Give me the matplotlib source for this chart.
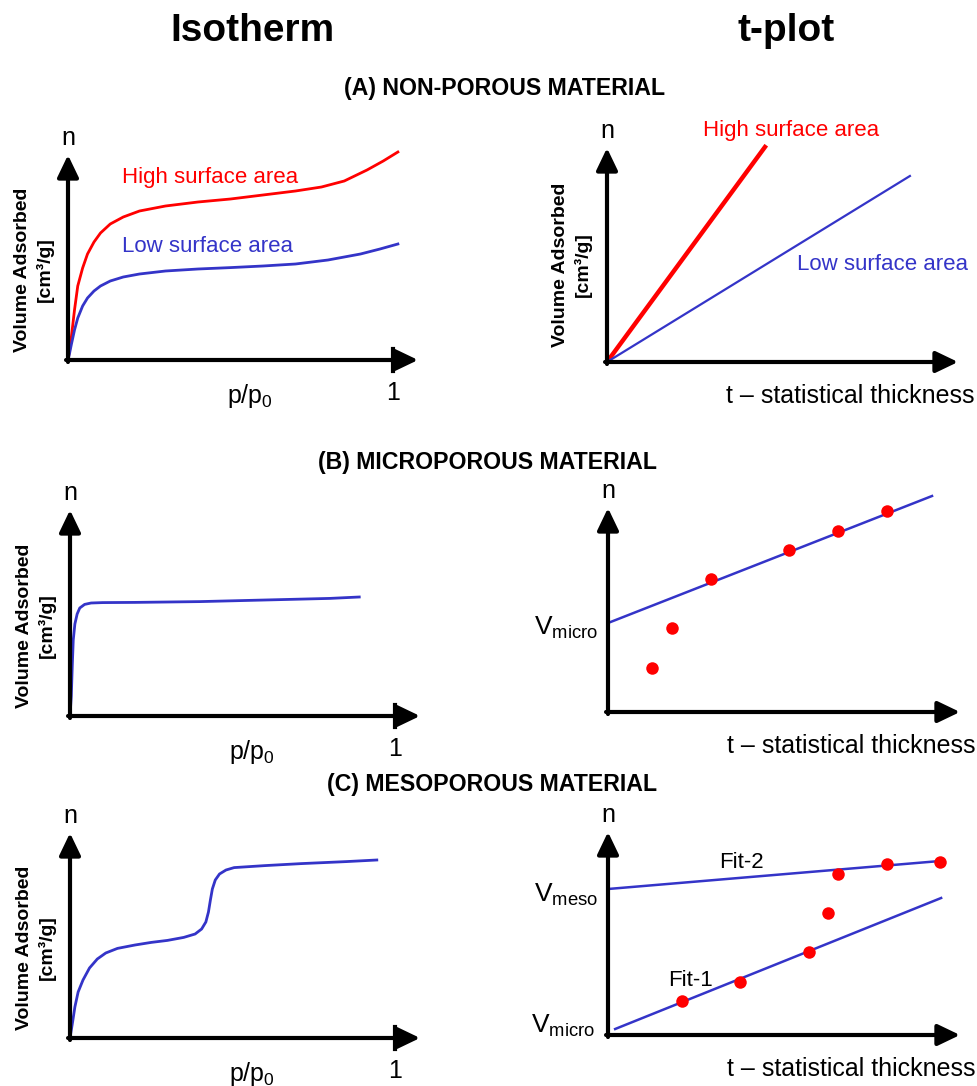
import matplotlib
matplotlib.use("Agg")
import matplotlib.pyplot as plt

plt.rcParams['font.family'] = ['Liberation Sans', 'DejaVu Sans']
plt.rcParams['mathtext.fontset'] = 'custom'
plt.rcParams['mathtext.rm'] = 'Liberation Sans'
plt.rcParams['mathtext.it'] = 'Liberation Sans:italic'
plt.rcParams['mathtext.bf'] = 'Liberation Sans:bold'

RED = '#ff0000'
BLUE = '#3434c8'

# (A) non-porous isotherms, p/p0 vs n (schematic units)
a_high_x = [0, 0.005, 0.01, 0.02, 0.03, 0.045, 0.06, 0.08, 0.1, 0.13, 0.17, 0.22, 0.3,
            0.4, 0.5, 0.6, 0.7, 0.78, 0.85, 0.92, 0.97, 1.015]
a_high_y = [0, 0.05, 0.11, 0.25, 0.37, 0.46, 0.53, 0.59, 0.635, 0.68, 0.715, 0.745, 0.77,
            0.79, 0.805, 0.825, 0.845, 0.865, 0.895, 0.95, 0.995, 1.04]
a_low_x = [0, 0.005, 0.01, 0.02, 0.03, 0.045, 0.06, 0.08, 0.1, 0.13, 0.17, 0.22, 0.3,
           0.4, 0.5, 0.6, 0.7, 0.8, 0.9, 0.96, 1.015]
a_low_y = [0, 0.035, 0.075, 0.15, 0.21, 0.27, 0.31, 0.345, 0.37, 0.395, 0.415, 0.43, 0.445,
           0.455, 0.462, 0.47, 0.48, 0.5, 0.53, 0.555, 0.58]

# (A) t-plot lines
a_t_high_x = [0, 0.486]
a_t_high_y = [0, 1.075]
a_t_low_x = [0, 0.932]
a_t_low_y = [0, 0.93]

# (B) microporous
b_iso_x = [0, 0.004, 0.007, 0.01, 0.015, 0.022, 0.03, 0.045, 0.065, 0.1, 0.2,
           0.4, 0.6, 0.8, 0.89]
b_iso_y = [0, 0.1, 0.25, 0.38, 0.46, 0.51, 0.54, 0.558, 0.565, 0.567, 0.568,
           0.572, 0.58, 0.588, 0.595]
b_fit_x = [0, 0.997]
b_fit_y = [0.445, 1.08]
b_pts_x = [0.135, 0.197, 0.317, 0.557, 0.708, 0.858]
b_pts_y = [0.22, 0.42, 0.665, 0.81, 0.905, 1.005]

# (C) mesoporous
c_iso_x = [0, 0.008, 0.015, 0.025, 0.04, 0.06, 0.084, 0.11, 0.146, 0.2, 0.25, 0.3,
           0.35, 0.385, 0.405, 0.418, 0.426, 0.432, 0.438, 0.447, 0.46, 0.48, 0.505,
           0.6, 0.712, 0.85, 0.944]
c_iso_y = [0, 0.08, 0.155, 0.23, 0.29, 0.35, 0.395, 0.425, 0.448, 0.465, 0.478, 0.488,
           0.503, 0.52, 0.545, 0.58, 0.63, 0.69, 0.745, 0.79, 0.82, 0.84, 0.852,
           0.862, 0.872, 0.882, 0.89]
c_fit1_x = [0.022, 1.025]
c_fit1_y = [0.03, 0.685]
c_fit2_x = [0, 1.022]
c_fit2_y = [0.73, 0.87]
c_pts_x = [0.228, 0.406, 0.618, 0.677, 0.708, 0.858, 1.022]
c_pts_y = [0.17, 0.265, 0.415, 0.61, 0.805, 0.855, 0.865]

W, H = 978, 1086
SX, SY = 325.0, 200.0
X0, X1, Y0, Y1 = -0.25, 1.2, -0.25, 1.2

fig = plt.figure(figsize=(W / 100, H / 100), dpi=100)


def panel(ox, oy, xtip, ytip, iso=True, ylab=True):
    left = ox + X0 * SX
    bottom = oy - Y0 * SY
    ax = fig.add_axes([left / W, 1 - bottom / H, (X1 - X0) * SX / W, (Y1 - Y0) * SY / H])
    ax.set_xlim(X0, X1)
    ax.set_ylim(Y0, Y1)
    ax.axis('off')
    ax.patch.set_alpha(0)
    arrow = dict(arrowstyle='-|>,head_length=0.75,head_width=0.36', lw=3,
                 color='black', mutation_scale=18, shrinkA=0, shrinkB=0)
    ax.annotate('', xy=(xtip, 0), xytext=(-0.006, 0), arrowprops=arrow)
    ax.annotate('', xy=(0, ytip), xytext=(0, -0.01), arrowprops=arrow)
    ax.text(0, ytip + 0.085, 'n', fontsize=18, ha='center', va='center')
    if iso:
        ax.plot([1, 1], [-0.055, 0.055], color='black', lw=3)
        ax.text(1, -0.165, '1', fontsize=18, ha='center', va='center')
        ax.text(0.56, -0.18, 'p/p$_0$', fontsize=18, ha='center', va='center')
    else:
        ax.text(1.13, -0.17, 't \u2013 statistical thickness', fontsize=18,
                ha='right', va='center')
    if ylab:
        ax.text(-0.105 if iso else -0.108, 0.45 if iso else 0.485,
                'Volume Adsorbed\n[cm\u00b3/g]', rotation=90, fontsize=14,
                fontweight='bold', ha='center', va='center', linespacing=1.3)
    return ax


# (A) isotherm
ax = panel(68, 360, 1.077, 1.025)
ax.plot(a_high_x, a_high_y, color=RED, lw=2)
ax.plot(a_low_x, a_low_y, color=BLUE, lw=2)
ax.text(0.166, 0.91, 'High surface area', color=RED, fontsize=16, va='center')
ax.text(0.166, 0.57, 'Low surface area', color=BLUE, fontsize=16, va='center')

# (A) t-plot
ax = panel(607, 362, 1.08, 1.07, iso=False)
ax.plot(a_t_high_x, a_t_high_y, color=RED, lw=3.2)
ax.plot(a_t_low_x, a_t_low_y, color=BLUE, lw=1.6)
ax.text(0.295, 1.155, 'High surface area', color=RED, fontsize=16, va='center')
ax.text(0.585, 0.485, 'Low surface area', color=BLUE, fontsize=16, va='center')

# (B) isotherm
ax = panel(70, 716, 1.077, 1.03)
ax.plot(b_iso_x, b_iso_y, color=BLUE, lw=2)

# (B) t-plot
ax = panel(608, 712, 1.083, 1.02, iso=False, ylab=False)
ax.plot(b_fit_x, b_fit_y, color=BLUE, lw=1.8)
ax.plot(b_pts_x, b_pts_y, 'o', color=RED, ms=9, mec='none')
ax.text(-0.03, 0.42, r'V$_{\mathrm{micro}}$', fontsize=19, ha='right', va='center')

# (C) isotherm
ax = panel(70, 1038, 1.077, 1.025)
ax.plot(c_iso_x, c_iso_y, color=BLUE, lw=2)

# (C) t-plot
ax = panel(608, 1035, 1.083, 1.015, iso=False, ylab=False)
ax.plot(c_fit2_x, c_fit2_y, color=BLUE, lw=1.8)
ax.plot(c_fit1_x, c_fit1_y, color=BLUE, lw=1.8)
ax.plot(c_pts_x, c_pts_y, 'o', color=RED, ms=9, mec='none')
ax.text(0.41, 0.865, 'Fit-2', fontsize=16, ha='center', va='center')
ax.text(0.255, 0.27, 'Fit-1', fontsize=16, ha='center', va='center')
ax.text(-0.03, 0.7, r'V$_{\mathrm{meso}}$', fontsize=19, ha='right', va='center')
ax.text(-0.04, 0.045, r'V$_{\mathrm{micro}}$', fontsize=19, ha='right', va='center')

# headers
fig.text(252 / W, 1 - 31 / H, 'Isotherm', fontsize=28, fontweight='bold',
         ha='center', va='center')
fig.text(786 / W, 1 - 31 / H, 't-plot', fontsize=28, fontweight='bold',
         ha='center', va='center')
fig.text(505 / W, 1 - 88 / H, '(A) NON-POROUS MATERIAL', fontsize=16.7,
         fontweight='bold', ha='center', va='center')
fig.text(488 / W, 1 - 462 / H, '(B) MICROPOROUS MATERIAL', fontsize=16.7,
         fontweight='bold', ha='center', va='center')
fig.text(492 / W, 1 - 785 / H, '(C) MESOPOROUS MATERIAL', fontsize=16.7,
         fontweight='bold', ha='center', va='center')

fig.savefig('out.png', dpi=100)
